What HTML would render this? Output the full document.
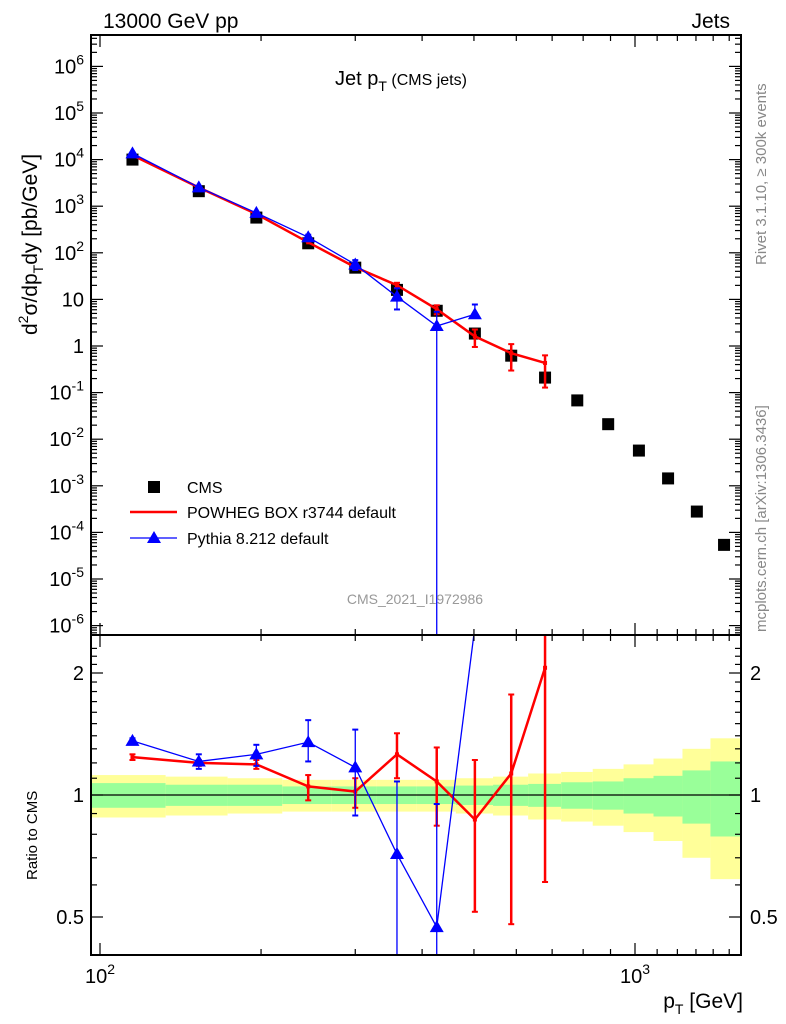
<!DOCTYPE html>
<html><head><meta charset="utf-8"><style>
html,body{margin:0;background:#fff;width:786px;height:1024px;overflow:hidden;position:relative;}
svg{display:block;font-family:"Liberation Sans",sans-serif;}
</style></head><body>
<svg id="c" width="786" height="1024" viewBox="0 0 786 1024"></svg>
<script>
const pts=[115,153,196,245,300,359,426,502,587,679,780,891,1017,1153,1305,1467];
const cmsVals=[1.0e4,2.1e3,570,160,48,16,5.7,1.85,0.62,0.21,0.068,0.021,0.0057,0.00144,2.8e-4,5.4e-5];
const bandTot=[0.12,0.11,0.10,0.09,0.09,0.09,0.09,0.10,0.11,0.13,0.14,0.16,0.19,0.23,0.30,0.38];
const bandStat=[0.07,0.06,0.06,0.05,0.05,0.05,0.05,0.055,0.06,0.065,0.075,0.08,0.10,0.115,0.15,0.21];
const powRatio=[1.24,1.20,1.19,1.05,1.02,1.26,1.08,0.87,1.13,2.06];
const powUp=[1.26,1.22,1.22,1.12,1.10,1.42,1.31,1.22,1.77,3.0];
const powDn=[1.22,1.18,1.16,0.97,0.93,1.10,0.84,0.515,0.48,0.61];
const pyRatio=[1.36,1.21,1.26,1.35,1.17,0.715,0.472,2.6];
const pyUp=[1.38,1.26,1.33,1.53,1.45,1.08,0.95,4.2];
const pyDn=[1.34,1.16,1.18,1.21,0.89,0.38,1e-9,2.55];
const yTickExp=[-6,-5,-4,-3,-2,-1,0,1,2,3,4,5,6];
const rTicks=[0.5,1,2];

const L=91,R=741,T=35,M=635,B=955;
const X=p=>100+535*Math.log10(p/100);
const Y=v=>346-46.6*Math.log10(v);
const YR=r=>795-122*Math.log2(r);
const NS="http://www.w3.org/2000/svg";
const svg=document.getElementById('c');
function el(tag,attrs,parent){const e=document.createElementNS(NS,tag);for(const k in attrs)e.setAttribute(k,attrs[k]);(parent||svg).appendChild(e);return e;}
function txt(s,x,y,size,anchor,fill,parent){const t=el('text',{x:x,y:y,'font-size':size,'text-anchor':anchor||'start',fill:fill||'#000'},parent);t.textContent=s;return t;}
const edge=i=>{if(i===0)return L;return (X(pts[i-1])+X(pts[i]))/2;};
const edgeR=i=>i===pts.length-1?R:(X(pts[i])+X(pts[i+1]))/2;

const band=el('g',{});


pts.forEach((p,i)=>{
  const x0=edge(i),x1=edgeR(i);
  el('rect',{x:x0,y:YR(1+bandTot[i]),width:x1-x0,height:YR(1-bandTot[i])-YR(1+bandTot[i]),fill:'#ffff99'},band);
  el('rect',{x:x0,y:YR(1+bandStat[i]),width:x1-x0,height:YR(1-bandStat[i])-YR(1+bandStat[i]),fill:'#99ff99'},band);
});
el('line',{x1:L,x2:R,y1:YR(1),y2:YR(1),stroke:'#000','stroke-width':1.2});

const defs=el('defs',{});
const c1=el('clipPath',{id:'cm'},defs);el('rect',{x:L,y:T,width:R-L,height:M-T},c1);
const c2=el('clipPath',{id:'cr'},defs);el('rect',{x:L,y:M,width:R-L,height:B-M},c2);
const gm=el('g',{'clip-path':'url(#cm)'});
const gr=el('g',{'clip-path':'url(#cr)'});

pts.forEach((p,i)=>{
  const s=el('rect',{x:X(p)-6,y:Y(cmsVals[i])-6,width:12,height:12,fill:'#000'},gm);
  
  
});
function series(ratio,up,dn,color,w,tri,name){
  const n=ratio.length;
  const mainPts=ratio.map((r,i)=>X(pts[i])+','+Y(cmsVals[i]*r)).join(' ');
  const ratPts=ratio.map((r,i)=>X(pts[i])+','+YR(r)).join(' ');
  const l1=el('polyline',{points:mainPts,fill:'none',stroke:color,'stroke-width':w},gm);
  
  
  const l2=el('polyline',{points:ratPts,fill:'none',stroke:color,'stroke-width':w},gr);
  
  
  for(let i=0;i<n;i++){
    const x=X(pts[i]);
    [[gm,Y(cmsVals[i]*up[i]),Y(cmsVals[i]*dn[i]),Y(cmsVals[i]*ratio[i])],[gr,YR(up[i]),YR(dn[i]),YR(ratio[i])]].forEach(([g,yu,yd,yc])=>{
      if(Math.abs(yd-yu)>3){
        el('line',{x1:x,x2:x,y1:yu,y2:yd,stroke:color,'stroke-width':w===1.3?1.3:2.5},g);
        el('line',{x1:x-3,x2:x+3,y1:yu,y2:yu,stroke:color,'stroke-width':2},g);
        el('line',{x1:x-3,x2:x+3,y1:yd,y2:yd,stroke:color,'stroke-width':2},g);
      }
      if(tri){const m=el('polygon',{points:`${x},${yc-7} ${x-7},${yc+5} ${x+7},${yc+5}`,fill:color},g);
        
        }
      else{el('rect',{x:x-2,y:yc-2,width:4,height:4,fill:color},g);}
    });
  }
}
series(powRatio,powUp,powDn,'#ff0000',2.5,false,'powheg');
series(pyRatio,pyUp,pyDn,'#0000ff',1.3,true,'pythia');

const fr1=el('rect',{x:L,y:T,width:R-L,height:M-T,fill:'none',stroke:'#000','stroke-width':2});

const fr2=el('rect',{x:L,y:M,width:R-L,height:B-M,fill:'none',stroke:'#000','stroke-width':2});


const tg=el('g',{stroke:'#000','stroke-width':1.2});
for(let e=-7;e<=6;e++){
  for(let k=1;k<10;k++){
    const y=Y(k*Math.pow(10,e));
    if(y<T||y>M)continue;
    const len=k===1?12:6;
    el('line',{x1:L,x2:L+len,y1:y,y2:y},tg);
    el('line',{x1:R,x2:R-len,y1:y,y2:y},tg);
  }
}
yTickExp.forEach(e=>{
  const y=Y(Math.pow(10,e))+7;
  let t;
  if(e===0)t=txt('1',84,y,20,'end');
  else if(e===1)t=txt('10',84,y,20,'end');
  else{t=el('text',{x:84,y:y,'font-size':20,'text-anchor':'end'});
    t.innerHTML='10<tspan dy="-9" font-size="14">'+e+'</tspan>';}
  
  
});
for(let p=100;p<=1500;p+=100){
  const x=X(p);const len=(p===100||p===1000)?12:6;
  [T,M].forEach(y=>el('line',{x1:x,x2:x,y1:y,y2:y+len},tg));
  [M,B].forEach(y=>el('line',{x1:x,x2:x,y1:y,y2:y-len},tg));
}
for(let r=0.5;r<=2.4;r+=0.1){
  const y=YR(r);if(y<M||y>B)continue;
  const major=[0.5,1,2].some(v=>Math.abs(v-r)<1e-6);
  const len=major?12:6;
  el('line',{x1:L,x2:L+len,y1:y,y2:y},tg);
  el('line',{x1:R,x2:R-len,y1:y,y2:y},tg);
}
rTicks.forEach(r=>{
  const s=r===1?'1':String(r);
  const a=txt(s,84,YR(r)+7,20,'end');
  const b=txt(s,750,YR(r)+7,20,'start');
});
let xl=el('text',{x:100,y:983,'font-size':20,'text-anchor':'middle'});xl.innerHTML='10<tspan dy="-9" font-size="14">2</tspan>';

xl=el('text',{x:635,y:983,'font-size':20,'text-anchor':'middle'});xl.innerHTML='10<tspan dy="-9" font-size="14">3</tspan>';

</script>
<svg style="position:absolute;left:0;top:0" width="786" height="1024">
<text x="103" y="28" font-size="21" font-family="Liberation Sans">13000 GeV pp</text>
<text x="730" y="28" font-size="21" font-family="Liberation Sans" text-anchor="end">Jets</text>
<text x="335" y="85" font-size="20" font-family="Liberation Sans">Jet p<tspan dy="6" font-size="14">T</tspan><tspan dy="-6" font-size="16"> (CMS jets)</tspan></text>
<text transform="translate(37,335) rotate(-90)" font-size="21" font-family="Liberation Sans">d<tspan dy="-9" font-size="14">2</tspan><tspan dy="9">σ/dp</tspan><tspan dy="6" font-size="14">T</tspan><tspan dy="-6">dy [pb/GeV]</tspan></text>
<text transform="translate(37,880) rotate(-90)" font-size="15" font-family="Liberation Sans">Ratio to CMS</text>
<text x="743" y="1008" font-size="21" font-family="Liberation Sans" text-anchor="end">p<tspan dy="6" font-size="14">T</tspan><tspan dy="-6"> [GeV]</tspan></text>
<text transform="translate(766,265) rotate(-90)" font-size="15" fill="#888" font-family="Liberation Sans">Rivet 3.1.10, ≥ 300k events</text>
<text transform="translate(766,632) rotate(-90)" font-size="15" fill="#888" font-family="Liberation Sans">mcplots.cern.ch [arXiv:1306.3436]</text>
<text x="415" y="604" font-size="14" fill="#999" font-family="Liberation Sans" text-anchor="middle">CMS_2021_I1972986</text>
<g font-family="Liberation Sans" font-size="16">
<rect x="148" y="481" width="12" height="12" fill="#000"/>
<text x="187" y="493">CMS</text>
<line x1="130" x2="177" y1="512" y2="512" stroke="#f00" stroke-width="2.5"/>
<text x="187" y="518">POWHEG BOX r3744 default</text>
<line x1="130" x2="177" y1="538" y2="538" stroke="#00f" stroke-width="1.3"/>
<polygon points="154,531 147,543 161,543" fill="#00f"/>
<text x="187" y="544">Pythia 8.212 default</text>
</g>
</svg>
</body></html>
